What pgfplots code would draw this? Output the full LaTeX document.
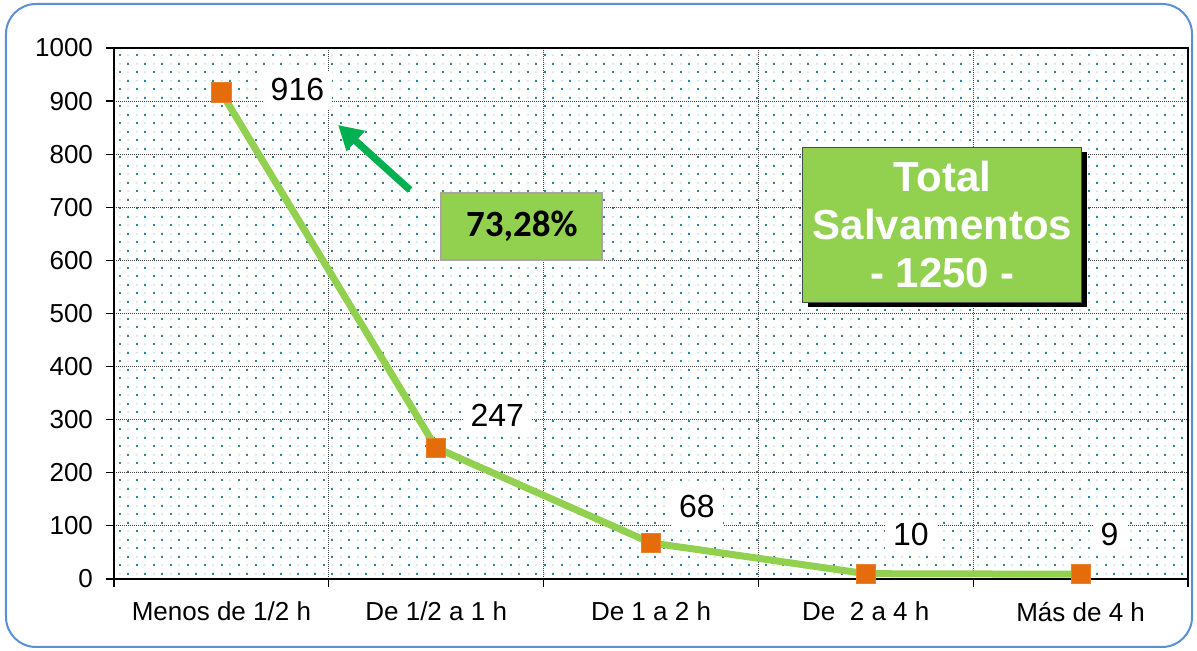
\documentclass[border=0pt]{standalone}
\usepackage{pgfplots}
\pgfplotsset{compat=1.18}
\usepackage{fontspec}
\setmainfont{Liberation Sans}
\newfontfamily\calibri{Carlito}
\usetikzlibrary{patterns.meta,arrows.meta,shadows}
\definecolor{lgreen}{HTML}{92D050}
\definecolor{orng}{HTML}{E46C0A}
\definecolor{arrowg}{HTML}{00B050}
\definecolor{dotc}{HTML}{31849B}
\definecolor{dashc}{HTML}{B4DCE6}
\definecolor{bordblue}{HTML}{5B8FD6}
\tikzdeclarepattern{
  name=xdots, type=colored,
  bottom left={(0pt,0pt)}, top right={(8.5pt,8.6pt)},
  tile size={(8.5pt,8.6pt)},
  code={
    \fill[dotc] (0pt,0pt) rectangle (1pt,1pt);
    \fill[dotc] (4.25pt,4.3pt) rectangle (5.25pt,5.3pt);
    \fill[dashc] (4.25pt,0.25pt) rectangle (5.25pt,0.75pt);
    \fill[dashc] (0pt,4.55pt) rectangle (1pt,5.05pt);
  }
}
\begin{document}
\begin{tikzpicture}
\path[use as bounding box] (-57pt,-36pt) rectangle (541.5pt,289.5pt);
\draw[bordblue, line width=1pt, rounded corners=15pt] (-54pt,-34pt) rectangle (539pt,287.5pt);
\begin{axis}[
  at={(0pt,0pt)}, anchor=south west,
  scale only axis, width=537pt, height=265.5pt,
  xmin=-0.5, xmax=4.5, ymin=0, ymax=1000,
  xtick={0,...,4},
  xticklabels={Menos de 1/2 h, De 1/2 a 1 h, De 1 a 2 h, De~~2 a 4 h, Más de 4 h},
  minor xtick={-0.5,0.5,...,4.5},
  ytick={0,100,...,1000},
  xtick pos=bottom, ytick pos=left,
  tick align=outside,
  major tick length=4pt, minor tick length=4pt,
  tick style={black, line width=0.6pt},
  major x tick style={draw=none},
  xmajorgrids=false, xminorgrids=true, ymajorgrids=true,
  grid style={dash pattern=on 0.5pt off 0.5pt, black!75, line width=0.5pt},
  minor grid style={dash pattern=on 0.5pt off 0.5pt, black!75, line width=0.5pt},
  axis line style={black, line width=1pt},
  ticklabel style={font=\fontsize{13}{15}\selectfont},
  yticklabel style={xshift=-3pt},
  xticklabel style={yshift=-4pt},
  /pgf/number format/assume math mode=true,
  /pgf/number format/1000 sep={},
  axis background/.style={fill=white, postaction={pattern=xdots}},
  clip=false,
]
\addplot[lgreen, line width=3.5pt, mark=square*, mark size=4.8pt,
  mark options={solid, fill=orng, draw=orng!85!white, line width=0.5pt}]
  coordinates {(0,916) (1,247) (2,68) (3,10) (4,9)};

\node[fill=white, inner xsep=4pt, inner ysep=4pt, font=\fontsize{16}{18}\selectfont] at (axis cs:0.354,921) {916};
\node[fill=white, inner xsep=4pt, inner ysep=4pt, font=\fontsize{16}{18}\selectfont] at (axis cs:1.284,309) {247};
\node[fill=white, inner xsep=4pt, inner ysep=4pt, font=\fontsize{16}{18}\selectfont] at (axis cs:2.214,137) {68};
\node[fill=white, inner xsep=4pt, inner ysep=4pt, font=\fontsize{16}{18}\selectfont] at (axis cs:3.21,83) {10};
\node[fill=white, inner xsep=4pt, inner ysep=4pt, font=\fontsize{16}{18}\selectfont] at (axis cs:4.135,83) {9};

\draw[arrowg, line width=3.6pt, -{Triangle[length=12pt,width=13pt]}] (axis cs:0.878,732.6) -- (axis cs:0.543,855);

\node[fill=lgreen, draw=gray!70, line width=1pt, minimum width=80.5pt, minimum height=33.5pt,
  font=\calibri\bfseries\fontsize{18.5}{20}\selectfont] at (axis cs:1.399,663.8) {73,28\%};

\node[fill=lgreen, draw=black!70, line width=0.5pt, minimum width=139.5pt, minimum height=77.5pt,
  align=center, text=white, font=\bfseries\fontsize{21}{24}\selectfont,
  general shadow={fill=black, shadow xshift=2.5pt, shadow yshift=-2.5pt}]
  at (axis cs:3.357,667.5) {Total\\Salvamentos\\- 1250 -};
\end{axis}
\end{tikzpicture}
\end{document}
